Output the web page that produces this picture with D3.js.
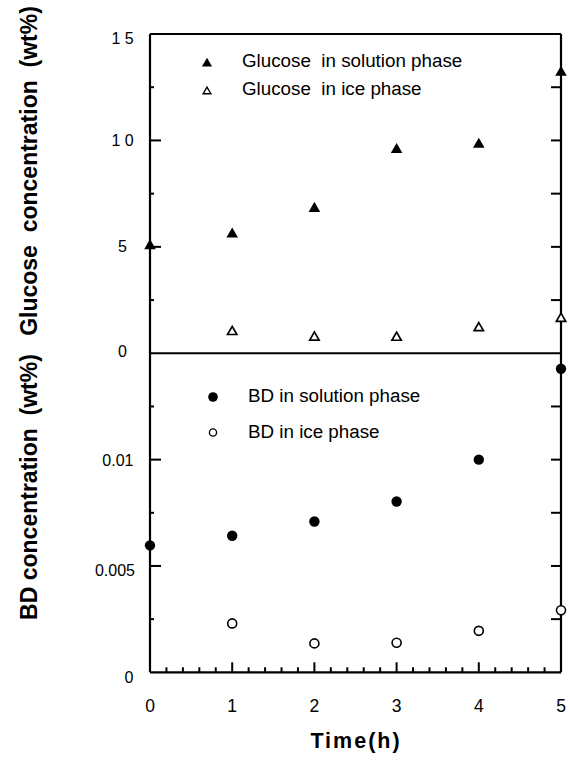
<!DOCTYPE html>
<html><head><meta charset="utf-8">
<script src="https://cdn.jsdelivr.net/npm/d3@7"></script>
<style>body{margin:0;background:#fff}svg{display:block}text{font-family:"Liberation Sans",Arial,sans-serif;fill:#000}</style>
</head><body><svg id="c" width="570" height="769"></svg>
<script>
const times = [0, 1, 2, 3, 4, 5];
const glucoseSolution = [5.05, 5.6, 6.8, 9.57, 9.81, 13.19];
const glucoseIceTimes = [1, 2, 3, 4, 5];
const glucoseIce = [1.01, 0.75, 0.74, 1.19, 1.63];
const bdSolution = [0.00597, 0.00642, 0.00709, 0.00803, 0.0100, 0.01427];
const bdIceTimes = [1, 2, 3, 4, 5];
const bdIce = [0.0023, 0.00136, 0.00139, 0.00195, 0.00292];
const xTicks = [0, 1, 2, 3, 4, 5];
const glucoseTicks = [0, 5, 10, 15];
const glucoseTickLabels = ["0", "5", "1 0", "1 5"];
const bdTicks = [0, 0.005, 0.01];
const bdTickLabels = ["0", "0.005", "0.01"];

const svg = d3.select("#c");
const L = 150, R = 561, T = 34, M = 353.3, B = 672.3;
const x = d3.scaleLinear().domain([0, 5]).range([L, R]);
const yG = d3.scaleLinear().domain([0, 15]).range([M, T]);
const yB = d3.scaleLinear().domain([0, 0.015]).range([B, M]);

const g = svg.append("g");
const ln = (x1, y1, x2, y2, w) => g.append("line").attr("x1", x1).attr("y1", y1).attr("x2", x2).attr("y2", y2).attr("stroke", "#000").attr("stroke-width", w);
ln(L, T, R, T, 2);
ln(L, M, R, M, 2);
ln(L, B, R, B, 2.2);
ln(L, T, L, B, 2.2);
ln(R, T, R, B, 2.2);

d3.range(0, 15.01, 2.5).forEach((v, i) => {
  if (v === 0 || v === 15) return;
  const major = i % 2 === 0;
  ln(L, yG(v), L + (major ? 11 : 4), yG(v), 2);
  ln(R, yG(v), R - 10, yG(v), 2);
});
const gDy = [4, 5.5, 6, 10];
glucoseTicks.forEach((v, i) => {
  g.append("text").attr("x", 122.5).attr("y", yG(v) + gDy[i]).attr("text-anchor", "middle").attr("font-size", 16).style("white-space", "pre").text(glucoseTickLabels[i]);
});
d3.range(0, 0.0151, 0.0025).forEach((v, i) => {
  if (i === 0 || i === 6) return;
  const major = i % 2 === 0;
  ln(L, yB(v), L + (major ? 11 : 4), yB(v), 2);
  ln(R, yB(v), R - 10, yB(v), 2);
});
const bDy = [11, 10.5, 6];
const bX = [133.5, 135, 133.5];
bdTicks.forEach((v, i) => {
  g.append("text").attr("x", bX[i]).attr("y", yB(v) + bDy[i]).attr("text-anchor", "end").attr("font-size", 16).text(bdTickLabels[i]);
});
d3.range(0, 5.001, 0.2).forEach((v, i) => {
  if (v < 0.01 || v > 4.99) return;
  const major = i % 5 === 0;
  ln(x(v), B, x(v), B - (major ? 10 : 5), 2);
});
xTicks.forEach(v => {
  g.append("text").attr("x", x(v)).attr("y", 712).attr("text-anchor", "middle").attr("font-size", 17.5).text(v);
});
g.append("text").attr("x", 356).attr("y", 748).attr("text-anchor", "middle").attr("font-size", 21.5).attr("font-weight", "bold").attr("letter-spacing", 2).text("Time(h)");
g.append("text").attr("transform", "translate(37,171) rotate(-90)").attr("text-anchor", "middle").attr("font-size", 23).attr("font-weight", "bold").style("white-space", "pre").text("Glucose  concentration  (wt%)");
g.append("text").attr("transform", "translate(37,487) rotate(-90)").attr("text-anchor", "middle").attr("font-size", 23).attr("font-weight", "bold").style("white-space", "pre").text("BD concentration  (wt%)");

const tri = d3.symbol().type(d3.symbolTriangle);
const triPath = (s) => tri.size(s)();
g.selectAll(".gs").data(times).join("path")
  .attr("transform", (d, i) => `translate(${x(d)},${yG(glucoseSolution[i])})`)
  .attr("d", triPath(58)).attr("fill", "#000");
g.selectAll(".gi").data(glucoseIceTimes).join("path")
  .attr("transform", (d, i) => `translate(${x(d)},${yG(glucoseIce[i])})`)
  .attr("d", triPath(38)).attr("fill", "#fff").attr("stroke", "#000").attr("stroke-width", 1.7);
g.selectAll(".bs").data(times).join("circle")
  .attr("cx", d => x(d)).attr("cy", (d, i) => yB(bdSolution[i])).attr("r", 5.2).attr("fill", "#000");
g.selectAll(".bi").data(bdIceTimes).join("circle")
  .attr("cx", d => x(d)).attr("cy", (d, i) => yB(bdIce[i])).attr("r", 4.5).attr("fill", "#fff").attr("stroke", "#000").attr("stroke-width", 1.6);

g.append("path").attr("transform", "translate(207,63.5)").attr("d", triPath(44)).attr("fill", "#000");
g.append("path").attr("transform", "translate(207,91.5)").attr("d", triPath(26)).attr("fill", "#fff").attr("stroke", "#000").attr("stroke-width", 1.4);
g.append("text").attr("x", 242).attr("y", 66.7).attr("font-size", 18.8).style("white-space", "pre").text("Glucose  in solution phase");
g.append("text").attr("x", 242).attr("y", 95).attr("font-size", 18.8).style("white-space", "pre").text("Glucose  in ice phase");
g.append("circle").attr("cx", 213).attr("cy", 397).attr("r", 4.8).attr("fill", "#000");
g.append("circle").attr("cx", 213).attr("cy", 432.5).attr("r", 3.6).attr("fill", "#fff").attr("stroke", "#000").attr("stroke-width", 1.4);
g.append("text").attr("x", 248).attr("y", 402).attr("font-size", 18.8).text("BD in solution phase");
g.append("text").attr("x", 248).attr("y", 438).attr("font-size", 18.8).text("BD in ice phase");
</script></body></html>
